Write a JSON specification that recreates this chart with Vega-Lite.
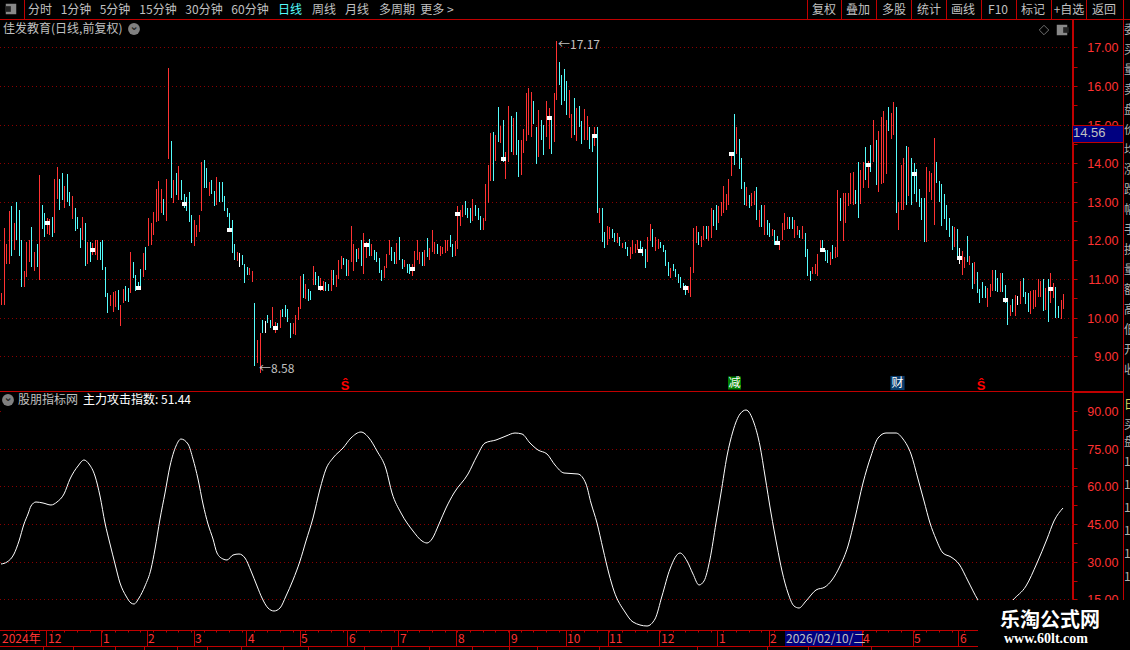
{"$schema":"https://vega.github.io/schema/vega-lite/v6.json","width":1130,"height":650,"padding":0,"autosize":{"type":"none"},"background":"#000000","config":{"view":{"stroke":null},"text":{"font":"Noto Sans CJK SC"}},
"datasets":{
"bars":[{"n":0,"h":10.63,"p":10.33,"t":"u"},{"n":1,"h":12.31,"p":10.33,"t":"u"},{"n":2,"h":11.9,"p":11.4,"t":"u"},{"n":3,"h":12.75,"p":11.4,"t":"u"},{"n":4,"h":12.9,"p":11.6,"t":"d"},{"n":5,"h":12.45,"p":11.75,"t":"u"},{"n":6,"h":13,"p":12,"t":"d"},{"n":7,"h":12.8,"p":11.6,"t":"d"},{"n":8,"h":12,"p":10.8,"t":"d"},{"n":9,"h":11.2,"p":10.8,"t":"u"},{"n":10,"h":11.95,"p":11.05,"t":"u"},{"n":11,"h":12,"p":11.45,"t":"u"},{"n":12,"h":12.35,"p":11.3,"t":"d"},{"n":13,"h":11.7,"p":11.2,"t":"u"},{"n":14,"h":11.9,"p":11.3,"t":"d"},{"n":15,"h":13.7,"p":10.98,"t":"u"},{"n":16,"h":12.93,"p":12.3,"t":"d"},{"n":17,"h":12.7,"p":12.1,"t":"d"},{"n":18,"h":12.58,"p":12.17,"t":"u"},{"n":19,"h":12.55,"p":12.15,"t":"u"},{"n":20,"h":12.6,"p":12.1,"t":"d"},{"n":21,"h":13.6,"p":12.2,"t":"u"},{"n":22,"h":13.9,"p":13.07,"t":"u"},{"n":23,"h":13.6,"p":12.8,"t":"d"},{"n":24,"h":13.75,"p":13.05,"t":"d"},{"n":25,"h":13.4,"p":12.85,"t":"u"},{"n":26,"h":13.72,"p":13,"t":"d"},{"n":27,"h":13.25,"p":12.9,"t":"d"},{"n":28,"h":13.15,"p":12.55,"t":"u"},{"n":29,"h":12.85,"p":12.25,"t":"d"},{"n":30,"h":12.6,"p":12.3,"t":"d"},{"n":31,"h":12.33,"p":11.8,"t":"d"},{"n":32,"h":12.6,"p":12,"t":"u"},{"n":33,"h":12.45,"p":11.33,"t":"d"},{"n":34,"h":11.95,"p":11.4,"t":"u"},{"n":35,"h":11.95,"p":11.45,"t":"d"},{"n":36,"h":11.93,"p":11.62,"t":"u"},{"n":37,"h":12,"p":11.62,"t":"u"},{"n":38,"h":12,"p":11.5,"t":"u"},{"n":39,"h":11.97,"p":11.5,"t":"d"},{"n":40,"h":12,"p":11.23,"t":"d"},{"n":41,"h":11.3,"p":10.53,"t":"d"},{"n":42,"h":10.65,"p":10.13,"t":"d"},{"n":43,"h":10.59,"p":10.3,"t":"u"},{"n":44,"h":10.67,"p":10.15,"t":"u"},{"n":45,"h":10.7,"p":10.28,"t":"u"},{"n":46,"h":10.72,"p":10.2,"t":"d"},{"n":47,"h":10.33,"p":9.79,"t":"u"},{"n":48,"h":10.74,"p":10.38,"t":"u"},{"n":49,"h":10.82,"p":10.44,"t":"d"},{"n":50,"h":10.77,"p":10.41,"t":"d"},{"n":51,"h":11.7,"p":10.64,"t":"u"},{"n":52,"h":11.44,"p":11.03,"t":"d"},{"n":53,"h":11.1,"p":10.69,"t":"d"},{"n":54,"h":10.92,"p":10.72,"t":"d"},{"n":55,"h":11.26,"p":10.8,"t":"d"},{"n":56,"h":11.67,"p":11.05,"t":"u"},{"n":57,"h":11.82,"p":11.23,"t":"d"},{"n":58,"h":12.57,"p":11.85,"t":"u"},{"n":59,"h":12.44,"p":11.88,"t":"u"},{"n":60,"h":12.73,"p":12.13,"t":"u"},{"n":61,"h":13.34,"p":12.47,"t":"u"},{"n":62,"h":13.54,"p":12.49,"t":"u"},{"n":63,"h":13.34,"p":12.72,"t":"u"},{"n":64,"h":13.06,"p":12.65,"t":"d"},{"n":65,"h":13.6,"p":12.5,"t":"u"},{"n":66,"h":16.46,"p":14.1,"t":"u"},{"n":67,"h":14.57,"p":13.1,"t":"d"},{"n":68,"h":13.57,"p":12.98,"t":"u"},{"n":69,"h":13.75,"p":13.18,"t":"d"},{"n":70,"h":13.93,"p":13.05,"t":"u"},{"n":71,"h":13.57,"p":13.05,"t":"d"},{"n":72,"h":13.2,"p":12.85,"t":"d"},{"n":73,"h":13.13,"p":12.77,"t":"d"},{"n":74,"h":13.26,"p":12.47,"t":"d"},{"n":75,"h":12.65,"p":11.93,"t":"d"},{"n":76,"h":12.52,"p":11.85,"t":"u"},{"n":77,"h":12.41,"p":12.08,"t":"u"},{"n":78,"h":12.67,"p":12.23,"t":"u"},{"n":79,"h":14.03,"p":12.75,"t":"u"},{"n":80,"h":14.08,"p":13.37,"t":"d"},{"n":81,"h":13.88,"p":13.37,"t":"d"},{"n":82,"h":13.52,"p":13.16,"t":"u"},{"n":83,"h":13.57,"p":13.21,"t":"d"},{"n":84,"h":13.29,"p":12.9,"t":"d"},{"n":85,"h":13.65,"p":12.93,"t":"u"},{"n":86,"h":13.52,"p":13,"t":"d"},{"n":87,"h":13.52,"p":13,"t":"d"},{"n":88,"h":13.16,"p":12.77,"t":"d"},{"n":89,"h":12.85,"p":12.6,"t":"d"},{"n":90,"h":12.7,"p":12.28,"t":"d"},{"n":91,"h":12.52,"p":11.67,"t":"d"},{"n":92,"h":11.9,"p":11.5,"t":"d"},{"n":93,"h":11.7,"p":11.48,"t":"u"},{"n":94,"h":11.67,"p":11.3,"t":"f"},{"n":95,"h":11.62,"p":11.36,"t":"d"},{"n":96,"h":11.38,"p":10.9,"t":"d"},{"n":97,"h":11.3,"p":11.1,"t":"d"},{"n":98,"h":11.28,"p":11.1,"t":"u"},{"n":99,"h":11.2,"p":10.92,"t":"u"},{"n":100,"h":10.38,"p":8.76,"t":"d"},{"n":101,"h":9.43,"p":8.82,"t":"u"},{"n":102,"h":9.61,"p":8.58,"t":"u"},{"n":103,"h":9.95,"p":9.61,"t":"d"},{"n":104,"h":9.92,"p":9.61,"t":"f"},{"n":105,"h":10.08,"p":9.85,"t":"d"},{"n":106,"h":9.95,"p":9.72,"t":"d"},{"n":107,"h":10.28,"p":9.79,"t":"u"},{"n":108,"h":9.9,"p":9.6,"t":"u"},{"n":109,"h":9.87,"p":9.7,"t":"d"},{"n":110,"h":10.2,"p":9.72,"t":"u"},{"n":111,"h":10.23,"p":10.03,"t":"d"},{"n":112,"h":10.33,"p":10.03,"t":"d"},{"n":113,"h":10.23,"p":9.9,"t":"d"},{"n":114,"h":9.85,"p":9.48,"t":"d"},{"n":115,"h":9.87,"p":9.58,"t":"u"},{"n":116,"h":10.08,"p":9.56,"t":"u"},{"n":117,"h":10.28,"p":9.95,"t":"u"},{"n":118,"h":11.08,"p":10.23,"t":"u"},{"n":119,"h":11.13,"p":10.51,"t":"d"},{"n":120,"h":10.87,"p":10.49,"t":"u"},{"n":121,"h":10.74,"p":10.44,"t":"d"},{"n":122,"h":10.69,"p":10.46,"t":"d"},{"n":123,"h":11.33,"p":10.85,"t":"u"},{"n":124,"h":11.18,"p":10.85,"t":"d"},{"n":125,"h":11.08,"p":10.8,"t":"d"},{"n":126,"h":11.03,"p":10.69,"t":"u"},{"n":127,"h":10.95,"p":10.69,"t":"u"},{"n":128,"h":10.92,"p":10.69,"t":"d"},{"n":129,"h":10.87,"p":10.69,"t":"d"},{"n":130,"h":11.23,"p":10.69,"t":"u"},{"n":131,"h":11.23,"p":10.85,"t":"d"},{"n":132,"h":11.1,"p":10.8,"t":"u"},{"n":133,"h":11.49,"p":11,"t":"u"},{"n":134,"h":11.59,"p":11.26,"t":"u"},{"n":135,"h":11.54,"p":11.36,"t":"d"},{"n":136,"h":11.52,"p":11.08,"t":"d"},{"n":137,"h":11.49,"p":11.08,"t":"u"},{"n":138,"h":12.37,"p":11.44,"t":"u"},{"n":139,"h":11.9,"p":11.2,"t":"u"},{"n":140,"h":11.77,"p":11.44,"t":"d"},{"n":141,"h":11.8,"p":11.52,"t":"u"},{"n":142,"h":12,"p":11.34,"t":"d"},{"n":143,"h":12.18,"p":11.13,"t":"u"},{"n":144,"h":11.95,"p":11.54,"t":"u"},{"n":145,"h":12.03,"p":11.59,"t":"d"},{"n":146,"h":11.9,"p":11.6,"t":"u"},{"n":147,"h":11.75,"p":11.5,"t":"d"},{"n":148,"h":11.7,"p":11.44,"t":"d"},{"n":149,"h":11.54,"p":11.16,"t":"d"},{"n":150,"h":11.23,"p":10.95,"t":"d"},{"n":151,"h":11.34,"p":11.03,"t":"u"},{"n":152,"h":11.65,"p":11.28,"t":"u"},{"n":153,"h":12,"p":11.62,"t":"u"},{"n":154,"h":11.82,"p":11.46,"t":"d"},{"n":155,"h":11.7,"p":11.38,"t":"d"},{"n":156,"h":11.93,"p":11.38,"t":"u"},{"n":157,"h":12.08,"p":11.49,"t":"d"},{"n":158,"h":11.52,"p":11.26,"t":"d"},{"n":159,"h":11.49,"p":11.31,"t":"u"},{"n":160,"h":11.39,"p":11.16,"t":"d"},{"n":161,"h":11.39,"p":11.13,"t":"d"},{"n":162,"h":11.39,"p":11.08,"t":"u"},{"n":163,"h":11.72,"p":11.31,"t":"u"},{"n":164,"h":12,"p":11.49,"t":"u"},{"n":165,"h":11.7,"p":11.39,"t":"u"},{"n":166,"h":11.7,"p":11.34,"t":"d"},{"n":167,"h":11.75,"p":11.34,"t":"u"},{"n":168,"h":12.06,"p":11.57,"t":"d"},{"n":169,"h":11.8,"p":11.49,"t":"u"},{"n":170,"h":12.26,"p":11.7,"t":"u"},{"n":171,"h":11.95,"p":11.64,"t":"u"},{"n":172,"h":11.9,"p":11.64,"t":"d"},{"n":173,"h":11.85,"p":11.6,"t":"u"},{"n":174,"h":11.82,"p":11.64,"t":"u"},{"n":175,"h":12,"p":11.67,"t":"u"},{"n":176,"h":12,"p":11.72,"t":"u"},{"n":177,"h":12.13,"p":11.82,"t":"d"},{"n":178,"h":11.9,"p":11.57,"t":"d"},{"n":179,"h":11.98,"p":11.6,"t":"u"},{"n":180,"h":12.88,"p":11.77,"t":"u"},{"n":181,"h":12.8,"p":12.37,"t":"u"},{"n":182,"h":12.93,"p":12.6,"t":"u"},{"n":183,"h":13.03,"p":12.65,"t":"d"},{"n":184,"h":12.85,"p":12.57,"t":"d"},{"n":185,"h":12.83,"p":12.44,"t":"d"},{"n":186,"h":13.06,"p":12.5,"t":"u"},{"n":187,"h":12.93,"p":12.62,"t":"d"},{"n":188,"h":12.83,"p":12.52,"t":"d"},{"n":189,"h":12.62,"p":12.26,"t":"d"},{"n":190,"h":12.57,"p":12.26,"t":"u"},{"n":191,"h":13.45,"p":12.5,"t":"u"},{"n":192,"h":13.94,"p":12.96,"t":"u"},{"n":193,"h":14.77,"p":13.55,"t":"u"},{"n":194,"h":14.8,"p":13.55,"t":"d"},{"n":195,"h":14.72,"p":14.05,"t":"u"},{"n":196,"h":15.45,"p":14.54,"t":"d"},{"n":197,"h":14.96,"p":14.52,"t":"u"},{"n":198,"h":15.11,"p":14.02,"t":"d"},{"n":199,"h":14.3,"p":13.58,"t":"u"},{"n":200,"h":15.48,"p":14.02,"t":"u"},{"n":201,"h":15.22,"p":14.3,"t":"d"},{"n":202,"h":15.16,"p":14.2,"t":"u"},{"n":203,"h":15.32,"p":14.2,"t":"d"},{"n":204,"h":14.59,"p":13.63,"t":"d"},{"n":205,"h":14.59,"p":13.7,"t":"u"},{"n":206,"h":14.88,"p":14.26,"t":"u"},{"n":207,"h":15.81,"p":14.57,"t":"u"},{"n":208,"h":15.94,"p":14.72,"t":"u"},{"n":209,"h":15.84,"p":14.67,"t":"u"},{"n":210,"h":15.6,"p":15.01,"t":"d"},{"n":211,"h":14.93,"p":13.97,"t":"d"},{"n":212,"h":15.37,"p":14.15,"t":"u"},{"n":213,"h":15.11,"p":14.59,"t":"d"},{"n":214,"h":14.98,"p":14.2,"t":"d"},{"n":215,"h":15.6,"p":14.67,"t":"u"},{"n":216,"h":15.42,"p":14.36,"t":"u"},{"n":217,"h":15.16,"p":14.23,"t":"d"},{"n":218,"h":15.81,"p":14.54,"t":"u"},{"n":219,"h":17.17,"p":15.63,"t":"u"},{"n":220,"h":16.62,"p":16.02,"t":"d"},{"n":221,"h":16.28,"p":15.5,"t":"d"},{"n":222,"h":16.44,"p":15.6,"t":"d"},{"n":223,"h":16.13,"p":15.24,"t":"d"},{"n":224,"h":15.9,"p":15.16,"t":"u"},{"n":225,"h":15.27,"p":14.65,"t":"u"},{"n":226,"h":15.68,"p":14.72,"t":"d"},{"n":227,"h":15.42,"p":14.57,"t":"u"},{"n":228,"h":15.48,"p":14.93,"t":"d"},{"n":229,"h":15.09,"p":14.49,"t":"d"},{"n":230,"h":15.4,"p":14.59,"t":"u"},{"n":231,"h":15.22,"p":14.59,"t":"u"},{"n":232,"h":14.93,"p":14.36,"t":"d"},{"n":233,"h":14.72,"p":14.28,"t":"d"},{"n":234,"h":14.93,"p":14.44,"t":"u"},{"n":235,"h":14.93,"p":12.7,"t":"d"},{"n":236,"h":12.83,"p":12.44,"t":"u"},{"n":237,"h":12.83,"p":11.95,"t":"d"},{"n":238,"h":12.21,"p":11.8,"t":"d"},{"n":239,"h":12.37,"p":11.88,"t":"u"},{"n":240,"h":12.34,"p":12.03,"t":"u"},{"n":241,"h":12.29,"p":12.06,"t":"d"},{"n":242,"h":12.19,"p":11.95,"t":"d"},{"n":243,"h":12.19,"p":11.93,"t":"u"},{"n":244,"h":12.08,"p":11.85,"t":"d"},{"n":245,"h":11.93,"p":11.8,"t":"u"},{"n":246,"h":11.95,"p":11.77,"t":"d"},{"n":247,"h":11.82,"p":11.59,"t":"d"},{"n":248,"h":11.82,"p":11.52,"t":"u"},{"n":249,"h":12,"p":11.65,"t":"u"},{"n":250,"h":11.9,"p":11.67,"t":"u"},{"n":251,"h":12,"p":11.75,"t":"u"},{"n":252,"h":11.98,"p":11.75,"t":"d"},{"n":253,"h":11.82,"p":11.59,"t":"d"},{"n":254,"h":11.77,"p":11.28,"t":"d"},{"n":255,"h":12.08,"p":11.44,"t":"u"},{"n":256,"h":12.42,"p":11.98,"t":"u"},{"n":257,"h":12.29,"p":11.82,"t":"d"},{"n":258,"h":12.08,"p":11.72,"t":"u"},{"n":259,"h":12.03,"p":11.77,"t":"u"},{"n":260,"h":11.95,"p":11.8,"t":"d"},{"n":261,"h":11.88,"p":11.7,"t":"d"},{"n":262,"h":11.75,"p":11.34,"t":"d"},{"n":263,"h":11.44,"p":11.08,"t":"d"},{"n":264,"h":11.28,"p":11.03,"t":"u"},{"n":265,"h":11.39,"p":11.21,"t":"d"},{"n":266,"h":11.26,"p":11.05,"t":"d"},{"n":267,"h":11.13,"p":10.9,"t":"d"},{"n":268,"h":11.05,"p":10.77,"t":"d"},{"n":269,"h":10.9,"p":10.74,"t":"d"},{"n":270,"h":10.85,"p":10.59,"t":"d"},{"n":271,"h":10.82,"p":10.64,"t":"u"},{"n":272,"h":11.31,"p":10.54,"t":"u"},{"n":273,"h":12.31,"p":11.16,"t":"u"},{"n":274,"h":12.37,"p":11.93,"t":"u"},{"n":275,"h":12.21,"p":11.88,"t":"d"},{"n":276,"h":12.11,"p":11.82,"t":"u"},{"n":277,"h":12.37,"p":12,"t":"u"},{"n":278,"h":12.37,"p":12.03,"t":"d"},{"n":279,"h":12.37,"p":11.98,"t":"u"},{"n":280,"h":12.83,"p":12.06,"t":"u"},{"n":281,"h":12.8,"p":12.37,"t":"d"},{"n":282,"h":12.93,"p":12.26,"t":"d"},{"n":283,"h":12.9,"p":12.44,"t":"u"},{"n":284,"h":13,"p":12.62,"t":"u"},{"n":285,"h":13.42,"p":12.72,"t":"u"},{"n":286,"h":13.19,"p":12.8,"t":"u"},{"n":287,"h":13.6,"p":12.93,"t":"u"},{"n":288,"h":14.18,"p":13.68,"t":"u"},{"n":289,"h":15.27,"p":13.94,"t":"d"},{"n":290,"h":14.93,"p":14.23,"t":"u"},{"n":291,"h":14.62,"p":13.84,"t":"d"},{"n":292,"h":14.14,"p":13.34,"t":"d"},{"n":293,"h":13.52,"p":12.93,"t":"d"},{"n":294,"h":13.39,"p":12.9,"t":"u"},{"n":295,"h":13.18,"p":12.85,"t":"d"},{"n":296,"h":13.24,"p":12.9,"t":"u"},{"n":297,"h":13.27,"p":12.93,"t":"u"},{"n":298,"h":13.39,"p":12.52,"t":"d"},{"n":299,"h":12.78,"p":12.34,"t":"u"},{"n":300,"h":12.93,"p":12.34,"t":"d"},{"n":301,"h":12.93,"p":12.13,"t":"u"},{"n":302,"h":12.52,"p":12.13,"t":"d"},{"n":303,"h":12.44,"p":12.08,"t":"d"},{"n":304,"h":12.29,"p":12.11,"t":"u"},{"n":305,"h":12.26,"p":11.88,"t":"d"},{"n":306,"h":12.11,"p":11.88,"t":"d"},{"n":307,"h":11.95,"p":11.75,"t":"u"},{"n":308,"h":12.44,"p":12,"t":"u"},{"n":309,"h":12.7,"p":12.26,"t":"u"},{"n":310,"h":12.6,"p":12.29,"t":"u"},{"n":311,"h":12.6,"p":12.29,"t":"d"},{"n":312,"h":12.6,"p":12.29,"t":"d"},{"n":313,"h":12.52,"p":12.06,"t":"u"},{"n":314,"h":12.37,"p":12.13,"t":"u"},{"n":315,"h":12.26,"p":12.06,"t":"d"},{"n":316,"h":12.37,"p":12.03,"t":"u"},{"n":317,"h":12.19,"p":11.57,"t":"d"},{"n":318,"h":11.77,"p":11.08,"t":"d"},{"n":319,"h":11.2,"p":10.95,"t":"d"},{"n":320,"h":11.31,"p":11.13,"t":"u"},{"n":321,"h":11.39,"p":11.13,"t":"u"},{"n":322,"h":11.65,"p":11.08,"t":"u"},{"n":323,"h":12,"p":11.72,"t":"u"},{"n":324,"h":12,"p":11.7,"t":"d"},{"n":325,"h":11.75,"p":11.46,"t":"d"},{"n":326,"h":11.75,"p":11.41,"t":"d"},{"n":327,"h":11.7,"p":11.36,"t":"u"},{"n":328,"h":11.88,"p":11.52,"t":"d"},{"n":329,"h":11.82,"p":11.54,"t":"u"},{"n":330,"h":13.3,"p":11.58,"t":"u"},{"n":331,"h":13.1,"p":12.5,"t":"d"},{"n":332,"h":13.24,"p":11.98,"t":"u"},{"n":333,"h":13.24,"p":12.44,"t":"u"},{"n":334,"h":13.24,"p":12.9,"t":"u"},{"n":335,"h":13.75,"p":12.95,"t":"u"},{"n":336,"h":13.78,"p":12.93,"t":"u"},{"n":337,"h":13.3,"p":12.95,"t":"d"},{"n":338,"h":14.03,"p":12.57,"t":"d"},{"n":339,"h":13.83,"p":12.95,"t":"u"},{"n":340,"h":14.03,"p":13.36,"t":"u"},{"n":341,"h":14.42,"p":13.57,"t":"d"},{"n":342,"h":14.06,"p":13.36,"t":"u"},{"n":343,"h":14.47,"p":13.78,"t":"d"},{"n":344,"h":15.12,"p":14.03,"t":"u"},{"n":345,"h":14.6,"p":13.44,"t":"d"},{"n":346,"h":14.83,"p":13.26,"t":"u"},{"n":347,"h":15.19,"p":13.47,"t":"u"},{"n":348,"h":15.35,"p":13.49,"t":"u"},{"n":349,"h":15.12,"p":13.73,"t":"u"},{"n":350,"h":15.45,"p":14.83,"t":"d"},{"n":351,"h":15.3,"p":14.63,"t":"u"},{"n":352,"h":15.58,"p":14.73,"t":"u"},{"n":353,"h":15.45,"p":12.7,"t":"d"},{"n":354,"h":13,"p":12.26,"t":"u"},{"n":355,"h":13.95,"p":12.8,"t":"u"},{"n":356,"h":14.14,"p":12.8,"t":"u"},{"n":357,"h":14.45,"p":12.93,"t":"d"},{"n":358,"h":14.42,"p":13.16,"t":"u"},{"n":359,"h":14.14,"p":12.93,"t":"d"},{"n":360,"h":14.01,"p":13.21,"t":"d"},{"n":361,"h":13.86,"p":13,"t":"d"},{"n":362,"h":13.34,"p":12.86,"t":"d"},{"n":363,"h":13.1,"p":12.52,"t":"d"},{"n":364,"h":13.1,"p":11.95,"t":"d"},{"n":365,"h":13.9,"p":11.95,"t":"u"},{"n":366,"h":13.8,"p":13.26,"t":"u"},{"n":367,"h":13.75,"p":13.05,"t":"u"},{"n":368,"h":14.65,"p":12.39,"t":"u"},{"n":369,"h":14.03,"p":13.49,"t":"d"},{"n":370,"h":13.55,"p":13,"t":"d"},{"n":371,"h":13.47,"p":12.37,"t":"d"},{"n":372,"h":13.2,"p":12.55,"t":"d"},{"n":373,"h":12.93,"p":12.26,"t":"d"},{"n":374,"h":12.57,"p":12.08,"t":"d"},{"n":375,"h":12.37,"p":11.75,"t":"d"},{"n":376,"h":12.34,"p":11.83,"t":"u"},{"n":377,"h":12.29,"p":11.49,"t":"d"},{"n":378,"h":11.8,"p":11.39,"t":"f"},{"n":379,"h":11.72,"p":11.1,"t":"u"},{"n":380,"h":11.57,"p":11.28,"t":"u"},{"n":381,"h":12.11,"p":11.44,"t":"d"},{"n":382,"h":11.6,"p":11.36,"t":"u"},{"n":383,"h":11.41,"p":10.74,"t":"d"},{"n":384,"h":11.44,"p":10.87,"t":"u"},{"n":385,"h":11.18,"p":10.64,"t":"d"},{"n":386,"h":10.74,"p":10.38,"t":"d"},{"n":387,"h":10.92,"p":10.51,"t":"d"},{"n":388,"h":10.82,"p":10.51,"t":"d"},{"n":389,"h":10.77,"p":10.28,"t":"u"},{"n":390,"h":10.87,"p":10.54,"t":"u"},{"n":391,"h":11.23,"p":10.69,"t":"u"},{"n":392,"h":11.23,"p":10.69,"t":"d"},{"n":393,"h":11.03,"p":10.67,"t":"d"},{"n":394,"h":11.15,"p":10.67,"t":"u"},{"n":395,"h":11.15,"p":10.67,"t":"d"},{"n":396,"h":10.85,"p":10.38,"t":"d"},{"n":397,"h":10.41,"p":9.82,"t":"d"},{"n":398,"h":10.33,"p":10.05,"t":"u"},{"n":399,"h":10.49,"p":10.15,"t":"d"},{"n":400,"h":10.59,"p":10.05,"t":"u"},{"n":401,"h":10.56,"p":10.33,"t":"f"},{"n":402,"h":10.95,"p":10.36,"t":"u"},{"n":403,"h":11.03,"p":10.54,"t":"d"},{"n":404,"h":10.67,"p":10.36,"t":"d"},{"n":405,"h":10.64,"p":10.15,"t":"d"},{"n":406,"h":10.69,"p":10.1,"t":"u"},{"n":407,"h":10.72,"p":10.23,"t":"u"},{"n":408,"h":10.72,"p":10.28,"t":"u"},{"n":409,"h":11,"p":10.54,"t":"u"},{"n":410,"h":10.95,"p":10.54,"t":"u"},{"n":411,"h":11,"p":10.18,"t":"d"},{"n":412,"h":10.77,"p":10.2,"t":"u"},{"n":413,"h":11,"p":9.9,"t":"d"},{"n":414,"h":11.15,"p":10.38,"t":"u"},{"n":415,"h":10.9,"p":10.51,"t":"u"},{"n":416,"h":10.8,"p":10,"t":"d"},{"n":417,"h":10.31,"p":10,"t":"d"},{"n":418,"h":10.46,"p":9.97,"t":"u"},{"n":419,"h":10.62,"p":10.23,"t":"u"}],
"marks18":[{"n":18,"p":12.46},{"n":36,"p":11.75},{"n":54,"p":10.77},{"n":72,"p":12.94},{"n":90,"p":12.27},{"n":108,"p":9.73},{"n":126,"p":10.77},{"n":144,"p":11.88},{"n":162,"p":11.26},{"n":180,"p":12.68},{"n":198,"p":14.11},{"n":216,"p":15.17},{"n":234,"p":14.7},{"n":252,"p":11.73},{"n":270,"p":10.77},{"n":288,"p":14.24},{"n":306,"p":11.93},{"n":324,"p":11.75},{"n":342,"p":13.96},{"n":360,"p":13.72},{"n":378,"p":11.55},{"n":396,"p":10.46},{"n":414,"p":10.74}],
"ind":[{"n":0,"v":29.1},{"n":2.3,"v":29.8},{"n":5,"v":32.9},{"n":7.1,"v":38.2},{"n":9.1,"v":44.9},{"n":10.5,"v":48.9},{"n":11.8,"v":52.2},{"n":13.9,"v":53.9},{"n":16.6,"v":53.5},{"n":19.7,"v":52.6},{"n":22,"v":53.8},{"n":24.7,"v":56.9},{"n":27.4,"v":62.9},{"n":30.2,"v":68.2},{"n":32.6,"v":70.5},{"n":34.9,"v":68.9},{"n":37,"v":64.2},{"n":39,"v":56.2},{"n":41,"v":45.5},{"n":43.1,"v":36.9},{"n":45.1,"v":28.9},{"n":47.1,"v":21.5},{"n":49.2,"v":16.2},{"n":51.2,"v":13.5},{"n":52.6,"v":13},{"n":54.6,"v":15.5},{"n":56.7,"v":20.2},{"n":59,"v":26.9},{"n":60.7,"v":34.9},{"n":62.8,"v":46.9},{"n":64.8,"v":57.5},{"n":66.8,"v":68.2},{"n":68.9,"v":76.2},{"n":71.2,"v":79.1},{"n":73.6,"v":76.9},{"n":75.7,"v":70.9},{"n":77.7,"v":62.9},{"n":79.7,"v":52.9},{"n":81.8,"v":44.9},{"n":83.5,"v":38.9},{"n":85.4,"v":33.5},{"n":87.6,"v":30.9},{"n":89.3,"v":30.6},{"n":91.7,"v":32.5},{"n":94,"v":33.1},{"n":96.3,"v":31.5},{"n":98.8,"v":26.2},{"n":100.8,"v":20.2},{"n":102.8,"v":15.5},{"n":105.3,"v":11.5},{"n":107.6,"v":10.3},{"n":109.9,"v":11.5},{"n":112.3,"v":16.2},{"n":115.1,"v":22.9},{"n":117.8,"v":30.2},{"n":120.5,"v":38.2},{"n":123.2,"v":47.5},{"n":125.9,"v":58.9},{"n":128.4,"v":66.9},{"n":131.1,"v":71.5},{"n":134.8,"v":75.5},{"n":138.2,"v":79.5},{"n":142,"v":81.9},{"n":145,"v":79.5},{"n":148.3,"v":74.2},{"n":151.7,"v":66.9},{"n":154.4,"v":57.5},{"n":157.8,"v":49.5},{"n":162.6,"v":42.2},{"n":166,"v":38.2},{"n":168,"v":37.5},{"n":170.1,"v":38.9},{"n":172.8,"v":44.9},{"n":175.5,"v":51.5},{"n":178.9,"v":57.5},{"n":184.3,"v":64.9},{"n":187.7,"v":72.2},{"n":191.1,"v":77.3},{"n":195.2,"v":78.5},{"n":199.3,"v":80.2},{"n":202.7,"v":81.5},{"n":205.4,"v":80.9},{"n":208.7,"v":77.3},{"n":211.7,"v":74.5},{"n":215.5,"v":72.9},{"n":218.5,"v":68.5},{"n":222.3,"v":65.3},{"n":227.6,"v":65.1},{"n":230.6,"v":60.9},{"n":232.9,"v":53.5},{"n":235.1,"v":45.5},{"n":237.4,"v":34.9},{"n":239.7,"v":24.9},{"n":241.9,"v":18.2},{"n":246,"v":10},{"n":249.5,"v":6},{"n":254.9,"v":4.3},{"n":258,"v":7},{"n":260.8,"v":16.2},{"n":263.8,"v":26.9},{"n":267.9,"v":33.3},{"n":270.6,"v":30.2},{"n":272.9,"v":24.9},{"n":275.4,"v":20.6},{"n":277.4,"v":22.2},{"n":279.7,"v":30.9},{"n":281.9,"v":45.5},{"n":284.2,"v":57.5},{"n":286.4,"v":72.2},{"n":288.7,"v":82.2},{"n":291.4,"v":88.9},{"n":294,"v":90.5},{"n":297,"v":85.5},{"n":299.3,"v":76.2},{"n":301.5,"v":64.2},{"n":303.8,"v":49.5},{"n":306.1,"v":36.2},{"n":308.3,"v":26.2},{"n":310.6,"v":17.5},{"n":312.9,"v":12.2},{"n":314.8,"v":11.4},{"n":317.4,"v":14.2},{"n":321.6,"v":18.6},{"n":324.9,"v":19.9},{"n":328,"v":22.9},{"n":331,"v":28.2},{"n":334,"v":36.2},{"n":337,"v":47.5},{"n":340,"v":61.5},{"n":343.1,"v":72.2},{"n":346.1,"v":79.5},{"n":349.1,"v":81.5},{"n":352.9,"v":81.3},{"n":355.9,"v":78.9},{"n":358.9,"v":72.9},{"n":361.9,"v":62.9},{"n":364.2,"v":54.2},{"n":366.5,"v":45.5},{"n":368.7,"v":38.9},{"n":371.7,"v":33.5},{"n":374.8,"v":31.8},{"n":377.8,"v":28.9},{"n":381.6,"v":22.2},{"n":385.6,"v":14.9},{"n":390,"v":9},{"n":395,"v":9},{"n":399.4,"v":14.9},{"n":404.2,"v":20.2},{"n":408.7,"v":29.5},{"n":412.5,"v":38.9},{"n":415.5,"v":46.2},{"n":418.8,"v":51.3}]
},
"encoding":{"x":{"field":"n","type":"quantitative","title":null,"scale":{"domain":[-0.4,445.4],"nice":false,"zero":false,"round":true},"axis":{"orient":"bottom","offset":-20,"values":[5,10,15,20,25,30,35,40,45,50,55,60,65,70,75,80,85,90,95,100,105,110,115,120,125,130,135,140,145,150,155,160,165,170,175,180,185,190,195,200,205,210,215,220,225,230,235,240,245,250,255,260,265,270,275,280,285,290,295,300,305,310,315,320,325,330,335,340,345,350,355,360,365,370,375,380],"tickSize":2,"tickColor":"#c00000","labels":false,"domain":false,"grid":false,"title":null}}},
"layer":[
{"encoding":{"y":{"field":"p","type":"quantitative","title":null,"scale":{"domain":[1.396,18.2246],"nice":false,"zero":false,"round":true},"axis":{"orient":"right","offset":-57,"values":[9,9.5,10,10.5,11,11.5,12,12.5,13,13.5,14,14.5,15,15.5,16,16.5,17],"labelExpr":"datum.value%1==0?format(datum.value,'.2f'):''","labelAlign":"right","labelPadding":41,"tickSize":4,"tickColor":"#c00000","labelColor":"#ff3232","labelFont":"Liberation Sans","labelFontSize":12.5,"domain":false,"grid":false,"title":null,"labelOverlap":false}}},
"layer":[
{"data":{"values":[{"p":9,"n":-0.4,"n2":422.9},{"p":10,"n":-0.4,"n2":422.9},{"p":11,"n":-0.4,"n2":422.9},{"p":12,"n":-0.4,"n2":422.9},{"p":13,"n":-0.4,"n2":422.9},{"p":14,"n":-0.4,"n2":422.9},{"p":15,"n":-0.4,"n2":422.9},{"p":16,"n":-0.4,"n2":422.9},{"p":17,"n":-0.4,"n2":422.9}]},"mark":{"type":"rule","color":"#8a0000","strokeDash":[1,3],"strokeWidth":1,"yOffset":0.5},"encoding":{"x2":{"field":"n2"}}},
{"data":{"name":"bars"},"mark":{"type":"rule","strokeWidth":1,"xOffset":0.5},"encoding":{"y2":{"field":"h"},"color":{"field":"t","type":"nominal","legend":null,"scale":{"domain":["u","d","f"],"range":["#ff3232","#54fcfc","#ffffff"]}}}},
{"data":{"name":"marks18"},"mark":{"type":"tick","orient":"horizontal","color":"#ffffff","size":5,"thickness":4,"opacity":1,"xOffset":0.5}},
{"data":{"values":[{"n":-0.4,"n2":445.4,"p":17.733},{"n":-0.4,"n2":442.6,"p":8.1},{"n":-0.4,"n2":385.4,"p":1.91},{"n":-0.4,"n2":385.4,"p":1.497},{"n":422.9,"n2":442.6,"p":14.99},{"n":422.9,"n2":442.6,"p":14.55}]},"mark":{"type":"rule","color":"#c00000","strokeWidth":1,"yOffset":0.5},"encoding":{"x2":{"field":"n2"}}},
{"data":{"values":[{"n":8.9,"p":18.22,"p2":17.733},{"n":318,"p":18.22,"p2":17.733},{"n":331.4,"p":18.22,"p2":17.733},{"n":345.2,"p":18.22,"p2":17.733},{"n":359,"p":18.22,"p2":17.733},{"n":372.8,"p":18.22,"p2":17.733},{"n":386.6,"p":18.22,"p2":17.733},{"n":400.4,"p":18.22,"p2":17.733},{"n":414.2,"p":18.22,"p2":17.733},{"n":428,"p":18.22,"p2":17.733},{"n":442.6,"p":18.22,"p2":2.69},{"n":17.9,"p":1.91,"p2":1.497},{"n":39.4,"p":1.91,"p2":1.497},{"n":57.6,"p":1.91,"p2":1.497},{"n":76,"p":1.91,"p2":1.497},{"n":96.8,"p":1.91,"p2":1.497},{"n":117.8,"p":1.91,"p2":1.497},{"n":136.6,"p":1.91,"p2":1.497},{"n":156.8,"p":1.91,"p2":1.497},{"n":179.5,"p":1.91,"p2":1.497},{"n":200.6,"p":1.91,"p2":1.497},{"n":222.9,"p":1.91,"p2":1.497},{"n":239.5,"p":1.91,"p2":1.497},{"n":259.6,"p":1.91,"p2":1.497},{"n":282.6,"p":1.91,"p2":1.497},{"n":302.8,"p":1.91,"p2":1.497},{"n":309.3,"p":1.91,"p2":1.497},{"n":339.7,"p":1.91,"p2":1.497},{"n":359.8,"p":1.91,"p2":1.497},{"n":377.7,"p":1.91,"p2":1.497},{"n":16.4,"p":1.497,"p2":1.396},{"n":28.4,"p":1.497,"p2":1.396},{"n":45,"p":1.497,"p2":1.396},{"n":56.4,"p":1.497,"p2":1.396},{"n":69.4,"p":1.497,"p2":1.396},{"n":81.3,"p":1.497,"p2":1.396},{"n":94.7,"p":1.497,"p2":1.396},{"n":111.2,"p":1.497,"p2":1.396},{"n":121.1,"p":1.497,"p2":1.396},{"n":143.2,"p":1.497,"p2":1.396},{"n":153.9,"p":1.497,"p2":1.396},{"n":168.8,"p":1.497,"p2":1.396},{"n":185.8,"p":1.497,"p2":1.396},{"n":200.4,"p":1.497,"p2":1.396},{"n":211.5,"p":1.497,"p2":1.396},{"n":235.9,"p":1.497,"p2":1.396},{"n":274.4,"p":1.497,"p2":1.396},{"n":302.2,"p":1.497,"p2":1.396},{"n":318.4,"p":1.497,"p2":1.396},{"n":343.2,"p":1.497,"p2":1.396}]},"mark":{"type":"rule","color":"#c00000","strokeWidth":1,"xOffset":0.5},"encoding":{"y2":{"field":"p2"}}},
{"data":{"values":[{"n":422.9,"p":17.733,"p2":1.91}]},"mark":{"type":"rule","color":"#c00000","strokeWidth":2},"encoding":{"y2":{"field":"p2"}}},
{"data":{"values":[{"n":422.9,"n2":442.6,"p":8.07}]},"mark":{"type":"rule","color":"#c00000","strokeWidth":2},"encoding":{"x2":{"field":"n2"}}},
{"data":{"values":[{"n":422.9,"n2":442.6,"p":14.97,"p2":14.56},{"n":309.3,"n2":339.7,"p":1.89,"p2":1.51}]},"mark":{"type":"rect","color":"#000080"},"encoding":{"x2":{"field":"n2"},"y2":{"field":"p2"}}},
{"data":{"values":[{"n":15.4,"p":17.97,"label":"分时"},{"n":29.6,"p":17.97,"label":"1分钟"},{"n":45,"p":17.97,"label":"5分钟"},{"n":62,"p":17.97,"label":"15分钟"},{"n":80,"p":17.97,"label":"30分钟"},{"n":98.2,"p":17.97,"label":"60分钟"},{"n":127.4,"p":17.97,"label":"周线"},{"n":140.4,"p":17.97,"label":"月线"},{"n":156.2,"p":17.97,"label":"多周期"},{"n":172,"p":17.97,"label":"更多 >"},{"n":324.7,"p":17.97,"label":"复权"},{"n":338.1,"p":17.97,"label":"叠加"},{"n":352.3,"p":17.97,"label":"多股"},{"n":366,"p":17.97,"label":"统计"},{"n":379.5,"p":17.97,"label":"画线"},{"n":393.3,"p":17.97,"label":"F10"},{"n":407.1,"p":17.97,"label":"标记"},{"n":421.2,"p":17.97,"label":"+自选"},{"n":435,"p":17.97,"label":"返回"}]},"mark":{"type":"text","color":"#c0c0c0","fontSize":12,"align":"center"},"encoding":{"text":{"field":"label"}}},
{"data":{"values":[{"n":114,"p":17.97,"label":"日线"}]},"mark":{"type":"text","color":"#54fcfc","fontSize":12,"align":"center"},"encoding":{"text":{"field":"label"}}},
{"data":{"values":[{"n":0.8,"p":17.47,"label":"佳发教育(日线,前复权)"},{"n":219.6,"p":17.05,"label":"←17.17"},{"n":101.7,"p":8.67,"label":"←8.58"}]},"mark":{"type":"text","color":"#c0c0c0","fontSize":12,"align":"left"},"encoding":{"text":{"field":"label"}}},
{"data":{"values":[{"n":423,"p":14.77,"label":"14.56"}]},"mark":{"type":"text","color":"#c0c0c0","fontSize":13,"align":"left","font":"Liberation Sans"},"encoding":{"text":{"field":"label"}}},
{"data":{"values":[{"n":135.7,"p":8.22,"label":"Ŝ"},{"n":386.6,"p":8.22,"label":"Ŝ"}]},"mark":{"type":"text","color":"#ff0000","fontSize":13,"fontWeight":"bold","align":"center","font":"Liberation Sans"},"encoding":{"text":{"field":"label"}}},
{"data":{"values":[{"n":289,"p":8.3,"signal":"减"}]},"mark":{"type":"point","shape":"square","filled":true,"color":"#008000","size":170,"opacity":1,"xOffset":0.5}},
{"data":{"values":[{"n":353.3,"p":8.3,"signal":"财"}]},"mark":{"type":"point","shape":"square","filled":true,"color":"#0a3d6e","size":200,"opacity":1,"xOffset":0.5}},
{"data":{"values":[{"n":289,"p":8.3,"label":"减"},{"n":353.3,"p":8.3,"label":"财"}]},"mark":{"type":"text","color":"#ffffff","fontSize":12,"align":"center","xOffset":0.5},"encoding":{"text":{"field":"label"}}},
{"data":{"values":[{"n":52.5,"p":17.47,"icon":"menu"}]},"mark":{"type":"point","shape":"circle","filled":true,"color":"#808080","size":140,"opacity":1}},
{"data":{"values":[{"n":52.5,"p":17.47,"label":"⌄"}]},"mark":{"type":"text","color":"#222222","fontSize":11,"align":"center","fontWeight":"bold","font":"DejaVu Sans","dy":-2},"encoding":{"text":{"field":"label"}}},
{"data":{"values":[{"n":411.5,"p":17.46,"icon":"diamond"}]},"mark":{"type":"point","shape":"diamond","filled":false,"color":"#707070","size":90,"strokeWidth":1,"opacity":1}},
{"data":{"values":[{"n":418.5,"p":17.46,"icon":"panel"},{"n":4,"p":17.98,"icon":"panel"}]},"mark":{"type":"point","shape":"square","filled":true,"color":"#888888","size":110,"opacity":1}},
{"data":{"values":[{"n":420.2,"p":17.46,"icon":"inner"},{"n":2.7,"p":17.98,"icon":"inner"}]},"mark":{"type":"point","shape":"square","filled":true,"color":"#222222","size":32,"opacity":1}},
{"data":{"values":[{"n":0.4,"p":1.69,"label":"2024年"},{"n":18.5,"p":1.69,"label":"12"},{"n":40.2,"p":1.69,"label":"1"},{"n":58,"p":1.69,"label":"2"},{"n":76.5,"p":1.69,"label":"3"},{"n":97.4,"p":1.69,"label":"4"},{"n":118.3,"p":1.69,"label":"5"},{"n":137.3,"p":1.69,"label":"6"},{"n":157.4,"p":1.69,"label":"7"},{"n":180.3,"p":1.69,"label":"8"},{"n":201.2,"p":1.69,"label":"9"},{"n":223.3,"p":1.69,"label":"10"},{"n":239.9,"p":1.69,"label":"11"},{"n":260.4,"p":1.69,"label":"12"},{"n":283.3,"p":1.69,"label":"1"},{"n":303.4,"p":1.69,"label":"2"},{"n":340.1,"p":1.69,"label":"4"},{"n":360.2,"p":1.69,"label":"5"},{"n":378.3,"p":1.69,"label":"6"}]},"mark":{"type":"text","color":"#ff3232","fontSize":12,"align":"left"},"encoding":{"text":{"field":"label"}}},
{"data":{"values":[{"n":309.7,"p":1.69,"label":"2026/02/10/二"}]},"mark":{"type":"text","color":"#c0c0c0","fontSize":12,"align":"left"},"encoding":{"text":{"field":"label"}}},
{"data":{"values":[{"n":443.2,"p":17.45,"label":"委"},{"n":443.2,"p":16.93,"label":"买"},{"n":443.2,"p":16.41,"label":"量"},{"n":443.2,"p":15.89,"label":"卖"},{"n":443.2,"p":15.38,"label":"盘"},{"n":443.2,"p":14.86,"label":"价"},{"n":443.2,"p":14.34,"label":"均"},{"n":443.2,"p":13.82,"label":"涨"},{"n":443.2,"p":13.3,"label":"跌"},{"n":443.2,"p":12.79,"label":"幅"},{"n":443.2,"p":12.27,"label":"手"},{"n":443.2,"p":11.75,"label":"换"},{"n":443.2,"p":11.23,"label":"量"},{"n":443.2,"p":10.72,"label":"额"},{"n":443.2,"p":10.2,"label":"高"},{"n":443.2,"p":9.68,"label":"低"},{"n":443.2,"p":9.16,"label":"开"},{"n":443.2,"p":8.65,"label":"收"},{"n":443.2,"p":7.22,"label":"买"},{"n":443.2,"p":6.78,"label":"盘"},{"n":443.2,"p":6.26,"label":"1"},{"n":443.2,"p":5.67,"label":"1"},{"n":443.2,"p":5.07,"label":"1"},{"n":443.2,"p":4.48,"label":"1"},{"n":443.2,"p":3.88,"label":"1"},{"n":443.2,"p":3.29,"label":"1"}]},"mark":{"type":"text","color":"#b0b0b0","fontSize":12,"align":"left"},"encoding":{"text":{"field":"label"}}},
{"data":{"values":[{"n":443.2,"p":7.74,"label":"日"}]},"mark":{"type":"text","color":"#d8d860","fontSize":12,"align":"left"},"encoding":{"text":{"field":"label"}}}
]},
{"encoding":{"y":{"field":"v","type":"quantitative","title":null,"scale":{"domain":[-5.22,254.05],"nice":false,"zero":false,"round":true},"axis":{"orient":"right","offset":-57,"values":[15,22.5,30,37.5,45,52.5,60,67.5,75,82.5,90],"labelExpr":"datum.value%15==0?format(datum.value,'.2f'):''","labelAlign":"right","labelPadding":41,"tickSize":4,"tickColor":"#c00000","labelColor":"#ff3232","labelFont":"Liberation Sans","labelFontSize":12.5,"domain":false,"grid":false,"title":null,"labelOverlap":false}}},
"layer":[
{"data":{"values":[{"v":15,"n":-0.4,"n2":422.9},{"v":30,"n":-0.4,"n2":422.9},{"v":45,"n":-0.4,"n2":422.9},{"v":60,"n":-0.4,"n2":422.9},{"v":75,"n":-0.4,"n2":422.9},{"v":90,"n":-0.4,"n2":0}]},"mark":{"type":"rule","color":"#8a0000","strokeDash":[1,3],"strokeWidth":1,"yOffset":0.5},"encoding":{"x2":{"field":"n2"}}},
{"data":{"name":"ind"},"mark":{"type":"line","color":"#ffffff","strokeWidth":1,"interpolate":"monotone"}},
{"data":{"values":[{"n":2.6,"v":94.5,"label":"menu"}]},"mark":{"type":"point","shape":"circle","filled":true,"color":"#808080","size":140,"opacity":1}},
{"data":{"values":[{"n":2.6,"v":94.5,"label":"⌄"}]},"mark":{"type":"text","color":"#222222","fontSize":11,"align":"center","fontWeight":"bold","font":"DejaVu Sans","dy":-2},"encoding":{"text":{"field":"label"}}},
{"data":{"values":[{"n":6.7,"v":94.5,"label":"股朋指标网"}]},"mark":{"type":"text","color":"#c0c0c0","fontSize":12,"align":"left"},"encoding":{"text":{"field":"label"}}},
{"data":{"values":[{"n":32.4,"v":94.5,"label":"主力攻击指数: 51.44"}]},"mark":{"type":"text","color":"#ffffff","fontSize":12,"align":"left"},"encoding":{"text":{"field":"label"}}},
{"data":{"values":[{"n":385.4,"n2":445.4,"v":-5.22,"v2":14.7}]},"mark":{"type":"rect","color":"#000000"},"encoding":{"x2":{"field":"n2"},"y2":{"field":"v2"}}},
{"data":{"values":[{"n":413.8,"v":6.5,"label":"乐淘公式网"}]},"mark":{"type":"text","color":"#ffffff","fontSize":20,"fontWeight":"bold","align":"center"},"encoding":{"text":{"field":"label"}}},
{"data":{"values":[{"n":412.2,"v":-1,"label":"www.60lt.com"}]},"mark":{"type":"text","color":"#ffffff","fontSize":14,"fontWeight":"bold","align":"center","font":"Liberation Serif"},"encoding":{"text":{"field":"label"}}}
]}
],
"resolve":{"scale":{"y":"independent"},"axis":{"y":"independent"}}}
